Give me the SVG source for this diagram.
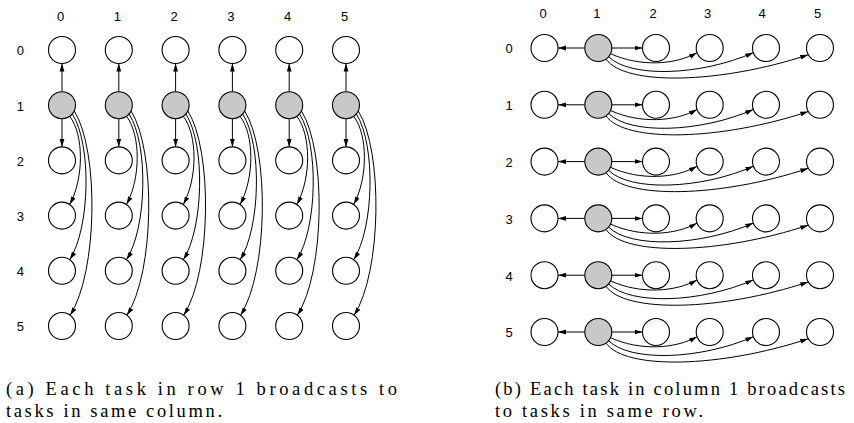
<svg xmlns="http://www.w3.org/2000/svg" width="854" height="423" viewBox="0 0 854 423">
<style>
.n{fill:#fff;stroke:#000;stroke-width:1.1}
.g{fill:#c8c8c8;stroke:#000;stroke-width:1.1}
.e{fill:none;stroke:#000;stroke-width:1;marker-end:url(#ah)}
.lb{font-family:"Liberation Sans",Arial,sans-serif;font-size:13px;fill:#000;text-anchor:middle}
.cap{font-family:"Liberation Serif","Times New Roman",serif;font-size:18.5px;fill:#000}
</style>
<defs>
<marker id="ah" markerUnits="userSpaceOnUse" markerWidth="9" markerHeight="6" refX="8" refY="3" orient="auto" viewBox="0 0 9 6">
<path d="M0,0.6 L8,3 L0,5.4 z" fill="#000"/>
</marker>
<circle id="cw" r="13.5" class="n"/>
<circle id="cg" r="13.5" class="g"/>
</defs>
<rect width="854" height="423" fill="#fff"/>

<g id="labels-a">
<text class="lb" x="60.5" y="21">0</text>
<text class="lb" x="117.3" y="21">1</text>
<text class="lb" x="174.1" y="21">2</text>
<text class="lb" x="230.9" y="21">3</text>
<text class="lb" x="287.7" y="21">4</text>
<text class="lb" x="344.5" y="21">5</text>
<text class="lb" x="20.3" y="55.3">0</text>
<text class="lb" x="20.3" y="110.5">1</text>
<text class="lb" x="20.3" y="165.7">2</text>
<text class="lb" x="20.3" y="220.9">3</text>
<text class="lb" x="20.3" y="276.1">4</text>
<text class="lb" x="20.3" y="331.3">5</text>
</g>

<g id="connectors-a">
<g transform="translate(62,0)"><path class="e" d="M0,91.7 V63.5"/><path class="e" d="M0,118.7 V146.9"/><path class="e" d="M7.7,116.3 C22,135 22,178 7.7,204.5"/><path class="e" d="M10.3,113.9 C30,145 28,228 7.7,259.7"/><path class="e" d="M12.2,110.9 C37,150 36,272 8.1,315.2"/></g>
<g transform="translate(118.8,0)"><path class="e" d="M0,91.7 V63.5"/><path class="e" d="M0,118.7 V146.9"/><path class="e" d="M7.7,116.3 C22,135 22,178 7.7,204.5"/><path class="e" d="M10.3,113.9 C30,145 28,228 7.7,259.7"/><path class="e" d="M12.2,110.9 C37,150 36,272 8.1,315.2"/></g>
<g transform="translate(175.6,0)"><path class="e" d="M0,91.7 V63.5"/><path class="e" d="M0,118.7 V146.9"/><path class="e" d="M7.7,116.3 C22,135 22,178 7.7,204.5"/><path class="e" d="M10.3,113.9 C30,145 28,228 7.7,259.7"/><path class="e" d="M12.2,110.9 C37,150 36,272 8.1,315.2"/></g>
<g transform="translate(232.4,0)"><path class="e" d="M0,91.7 V63.5"/><path class="e" d="M0,118.7 V146.9"/><path class="e" d="M7.7,116.3 C22,135 22,178 7.7,204.5"/><path class="e" d="M10.3,113.9 C30,145 28,228 7.7,259.7"/><path class="e" d="M12.2,110.9 C37,150 36,272 8.1,315.2"/></g>
<g transform="translate(289.2,0)"><path class="e" d="M0,91.7 V63.5"/><path class="e" d="M0,118.7 V146.9"/><path class="e" d="M7.7,116.3 C22,135 22,178 7.7,204.5"/><path class="e" d="M10.3,113.9 C30,145 28,228 7.7,259.7"/><path class="e" d="M12.2,110.9 C37,150 36,272 8.1,315.2"/></g>
<g transform="translate(346,0)"><path class="e" d="M0,91.7 V63.5"/><path class="e" d="M0,118.7 V146.9"/><path class="e" d="M7.7,116.3 C22,135 22,178 7.7,204.5"/><path class="e" d="M10.3,113.9 C30,145 28,228 7.7,259.7"/><path class="e" d="M12.2,110.9 C37,150 36,272 8.1,315.2"/></g>
</g>

<g id="nodes-a">
<g id="a-r0-c0"><use href="#cw" x="62" y="50"/></g>
<g id="a-r0-c1"><use href="#cw" x="118.8" y="50"/></g>
<g id="a-r0-c2"><use href="#cw" x="175.6" y="50"/></g>
<g id="a-r0-c3"><use href="#cw" x="232.4" y="50"/></g>
<g id="a-r0-c4"><use href="#cw" x="289.2" y="50"/></g>
<g id="a-r0-c5"><use href="#cw" x="346" y="50"/></g>
<g id="a-r1-c0"><use href="#cg" x="62" y="105.2"/></g>
<g id="a-r1-c1"><use href="#cg" x="118.8" y="105.2"/></g>
<g id="a-r1-c2"><use href="#cg" x="175.6" y="105.2"/></g>
<g id="a-r1-c3"><use href="#cg" x="232.4" y="105.2"/></g>
<g id="a-r1-c4"><use href="#cg" x="289.2" y="105.2"/></g>
<g id="a-r1-c5"><use href="#cg" x="346" y="105.2"/></g>
<g id="a-r2-c0"><use href="#cw" x="62" y="160.4"/></g>
<g id="a-r2-c1"><use href="#cw" x="118.8" y="160.4"/></g>
<g id="a-r2-c2"><use href="#cw" x="175.6" y="160.4"/></g>
<g id="a-r2-c3"><use href="#cw" x="232.4" y="160.4"/></g>
<g id="a-r2-c4"><use href="#cw" x="289.2" y="160.4"/></g>
<g id="a-r2-c5"><use href="#cw" x="346" y="160.4"/></g>
<g id="a-r3-c0"><use href="#cw" x="62" y="215.6"/></g>
<g id="a-r3-c1"><use href="#cw" x="118.8" y="215.6"/></g>
<g id="a-r3-c2"><use href="#cw" x="175.6" y="215.6"/></g>
<g id="a-r3-c3"><use href="#cw" x="232.4" y="215.6"/></g>
<g id="a-r3-c4"><use href="#cw" x="289.2" y="215.6"/></g>
<g id="a-r3-c5"><use href="#cw" x="346" y="215.6"/></g>
<g id="a-r4-c0"><use href="#cw" x="62" y="270.8"/></g>
<g id="a-r4-c1"><use href="#cw" x="118.8" y="270.8"/></g>
<g id="a-r4-c2"><use href="#cw" x="175.6" y="270.8"/></g>
<g id="a-r4-c3"><use href="#cw" x="232.4" y="270.8"/></g>
<g id="a-r4-c4"><use href="#cw" x="289.2" y="270.8"/></g>
<g id="a-r4-c5"><use href="#cw" x="346" y="270.8"/></g>
<g id="a-r5-c0"><use href="#cw" x="62" y="326"/></g>
<g id="a-r5-c1"><use href="#cw" x="118.8" y="326"/></g>
<g id="a-r5-c2"><use href="#cw" x="175.6" y="326"/></g>
<g id="a-r5-c3"><use href="#cw" x="232.4" y="326"/></g>
<g id="a-r5-c4"><use href="#cw" x="289.2" y="326"/></g>
<g id="a-r5-c5"><use href="#cw" x="346" y="326"/></g>
</g>

<g id="labels-b">
<text class="lb" x="543" y="17.6">0</text>
<text class="lb" x="596.8" y="17.6">1</text>
<text class="lb" x="653" y="17.6">2</text>
<text class="lb" x="707.5" y="17.6">3</text>
<text class="lb" x="762" y="17.6">4</text>
<text class="lb" x="817.5" y="17.6">5</text>
<text class="lb" x="509" y="53.3">0</text>
<text class="lb" x="509" y="110.1">1</text>
<text class="lb" x="509" y="166.9">2</text>
<text class="lb" x="509" y="223.7">3</text>
<text class="lb" x="509" y="280.5">4</text>
<text class="lb" x="509" y="337.3">5</text>
</g>

<g id="connectors-b">
<g transform="translate(0,48)"><path class="e" d="M584.8,0 H558"/><path class="e" d="M611.8,0 H642.5"/><path class="e" d="M610.5,5.7 C640,19 675,17 697,4.7"/><path class="e" d="M608.6,8.7 C630,30 700,28 753.3,4.7"/><path class="e" d="M606,11.1 C625,38 720,36 808.3,6.75"/></g>
<g transform="translate(0,104.8)"><path class="e" d="M584.8,0 H558"/><path class="e" d="M611.8,0 H642.5"/><path class="e" d="M610.5,5.7 C640,19 675,17 697,4.7"/><path class="e" d="M608.6,8.7 C630,30 700,28 753.3,4.7"/><path class="e" d="M606,11.1 C625,38 720,36 808.3,6.75"/></g>
<g transform="translate(0,161.6)"><path class="e" d="M584.8,0 H558"/><path class="e" d="M611.8,0 H642.5"/><path class="e" d="M610.5,5.7 C640,19 675,17 697,4.7"/><path class="e" d="M608.6,8.7 C630,30 700,28 753.3,4.7"/><path class="e" d="M606,11.1 C625,38 720,36 808.3,6.75"/></g>
<g transform="translate(0,218.4)"><path class="e" d="M584.8,0 H558"/><path class="e" d="M611.8,0 H642.5"/><path class="e" d="M610.5,5.7 C640,19 675,17 697,4.7"/><path class="e" d="M608.6,8.7 C630,30 700,28 753.3,4.7"/><path class="e" d="M606,11.1 C625,38 720,36 808.3,6.75"/></g>
<g transform="translate(0,275.2)"><path class="e" d="M584.8,0 H558"/><path class="e" d="M611.8,0 H642.5"/><path class="e" d="M610.5,5.7 C640,19 675,17 697,4.7"/><path class="e" d="M608.6,8.7 C630,30 700,28 753.3,4.7"/><path class="e" d="M606,11.1 C625,38 720,36 808.3,6.75"/></g>
<g transform="translate(0,332)"><path class="e" d="M584.8,0 H558"/><path class="e" d="M611.8,0 H642.5"/><path class="e" d="M610.5,5.7 C640,19 675,17 697,4.7"/><path class="e" d="M608.6,8.7 C630,30 700,28 753.3,4.7"/><path class="e" d="M606,11.1 C625,38 720,36 808.3,6.75"/></g>
</g>

<g id="nodes-b">
<g id="b-r0-c0"><use href="#cw" x="544.5" y="48"/></g>
<g id="b-r0-c1"><use href="#cg" x="598.3" y="48"/></g>
<g id="b-r0-c2"><use href="#cw" x="656" y="48"/></g>
<g id="b-r0-c3"><use href="#cw" x="709.7" y="48"/></g>
<g id="b-r0-c4"><use href="#cw" x="766" y="48"/></g>
<g id="b-r0-c5"><use href="#cw" x="820" y="48"/></g>
<g id="b-r1-c0"><use href="#cw" x="544.5" y="104.8"/></g>
<g id="b-r1-c1"><use href="#cg" x="598.3" y="104.8"/></g>
<g id="b-r1-c2"><use href="#cw" x="656" y="104.8"/></g>
<g id="b-r1-c3"><use href="#cw" x="709.7" y="104.8"/></g>
<g id="b-r1-c4"><use href="#cw" x="766" y="104.8"/></g>
<g id="b-r1-c5"><use href="#cw" x="820" y="104.8"/></g>
<g id="b-r2-c0"><use href="#cw" x="544.5" y="161.6"/></g>
<g id="b-r2-c1"><use href="#cg" x="598.3" y="161.6"/></g>
<g id="b-r2-c2"><use href="#cw" x="656" y="161.6"/></g>
<g id="b-r2-c3"><use href="#cw" x="709.7" y="161.6"/></g>
<g id="b-r2-c4"><use href="#cw" x="766" y="161.6"/></g>
<g id="b-r2-c5"><use href="#cw" x="820" y="161.6"/></g>
<g id="b-r3-c0"><use href="#cw" x="544.5" y="218.4"/></g>
<g id="b-r3-c1"><use href="#cg" x="598.3" y="218.4"/></g>
<g id="b-r3-c2"><use href="#cw" x="656" y="218.4"/></g>
<g id="b-r3-c3"><use href="#cw" x="709.7" y="218.4"/></g>
<g id="b-r3-c4"><use href="#cw" x="766" y="218.4"/></g>
<g id="b-r3-c5"><use href="#cw" x="820" y="218.4"/></g>
<g id="b-r4-c0"><use href="#cw" x="544.5" y="275.2"/></g>
<g id="b-r4-c1"><use href="#cg" x="598.3" y="275.2"/></g>
<g id="b-r4-c2"><use href="#cw" x="656" y="275.2"/></g>
<g id="b-r4-c3"><use href="#cw" x="709.7" y="275.2"/></g>
<g id="b-r4-c4"><use href="#cw" x="766" y="275.2"/></g>
<g id="b-r4-c5"><use href="#cw" x="820" y="275.2"/></g>
<g id="b-r5-c0"><use href="#cw" x="544.5" y="332"/></g>
<g id="b-r5-c1"><use href="#cg" x="598.3" y="332"/></g>
<g id="b-r5-c2"><use href="#cw" x="656" y="332"/></g>
<g id="b-r5-c3"><use href="#cw" x="709.7" y="332"/></g>
<g id="b-r5-c4"><use href="#cw" x="766" y="332"/></g>
<g id="b-r5-c5"><use href="#cw" x="820" y="332"/></g>
</g>

<g id="captions">
<text class="cap" x="6" y="395" textLength="391" lengthAdjust="spacing">(a) Each task in row 1 broadcasts to</text>
<text class="cap" x="6" y="416.5" textLength="216" lengthAdjust="spacing">tasks in same column.</text>
<text class="cap" x="495" y="395" textLength="350" lengthAdjust="spacing">(b) Each task in column 1 broadcasts</text>
<text class="cap" x="495" y="416.5" textLength="208" lengthAdjust="spacing">to tasks in same row.</text>
</g>
</svg>
